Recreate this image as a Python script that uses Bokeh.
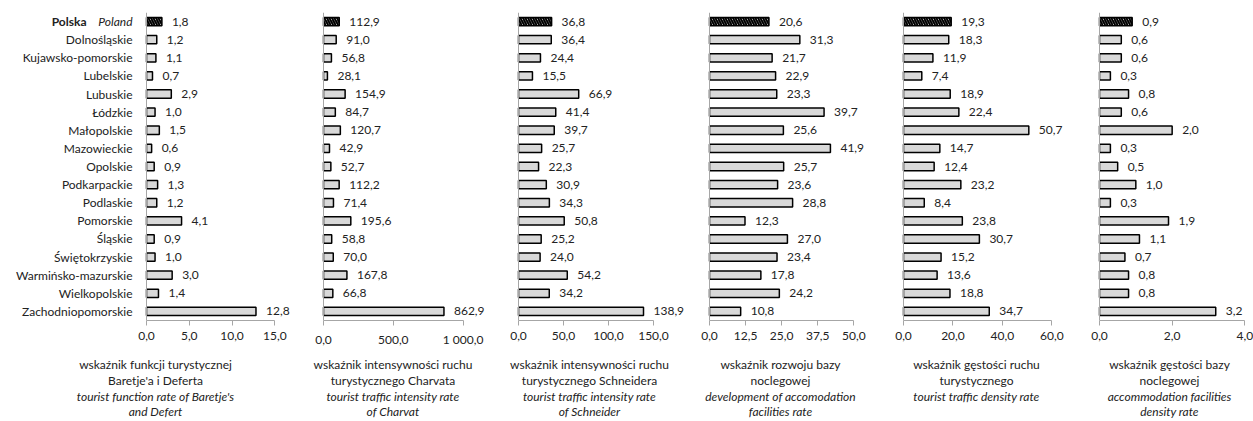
from bokeh.plotting import figure
from bokeh.layouts import row, column
from bokeh.models import Range1d, FixedTicker, Span
from bokeh.core.properties import value
from bokeh.embed import file_html
from bokeh.resources import INLINE

regions = ["Polska", "Dolnośląskie", "Kujawsko-pomorskie", "Lubelskie", "Lubuskie",
           "Łódzkie", "Małopolskie", "Mazowieckie", "Opolskie", "Podkarpackie",
           "Podlaskie", "Pomorskie", "Śląskie", "Świętokrzyskie",
           "Warmińsko-mazurskie", "Wielkopolskie", "Zachodniopomorskie"]
poland_pl = "Polska"
poland_en = "Poland"

baretje = [1.8, 1.2, 1.1, 0.7, 2.9, 1.0, 1.5, 0.6, 0.9, 1.3, 1.2, 4.1, 0.9, 1.0, 3.0, 1.4, 12.8]
charvat = [112.9, 91.0, 56.8, 28.1, 154.9, 84.7, 120.7, 42.9, 52.7, 112.2, 71.4, 195.6, 58.8, 70.0, 167.8, 66.8, 862.9]
schneider = [36.8, 36.4, 24.4, 15.5, 66.9, 41.4, 39.7, 25.7, 22.3, 30.9, 34.3, 50.8, 25.2, 24.0, 54.2, 34.2, 138.9]
accom_development = [20.6, 31.3, 21.7, 22.9, 23.3, 39.7, 25.6, 41.9, 25.7, 23.6, 28.8, 12.3, 27.0, 23.4, 17.8, 24.2, 10.8]
traffic_density = [19.3, 18.3, 11.9, 7.4, 18.9, 22.4, 50.7, 14.7, 12.4, 23.2, 8.4, 23.8, 30.7, 15.2, 13.6, 18.8, 34.7]
accom_density = [0.9, 0.6, 0.6, 0.3, 0.8, 0.6, 2.0, 0.3, 0.5, 1.0, 0.3, 1.9, 1.1, 0.7, 0.8, 0.8, 3.2]

ticks_1 = [0, 5, 10, 15]
tick_labels_1 = ["0,0", "5,0", "10,0", "15,0"]
ticks_2 = [0, 500, 1000]
tick_labels_2 = ["0,0", "500,0", "1 000,0"]
ticks_3 = [0, 50, 100, 150]
tick_labels_3 = ["0,0", "50,0", "100,0", "150,0"]
ticks_4 = [0, 12.5, 25, 37.5, 50]
tick_labels_4 = ["0,0", "12,5", "25,0", "37,5", "50,0"]
ticks_5 = [0, 20, 40, 60]
tick_labels_5 = ["0,0", "20,0", "40,0", "60,0"]
ticks_6 = [0, 2, 4]
tick_labels_6 = ["0,0", "2,0", "4,0"]

caption_pl_1 = ["wskaźnik funkcji turystycznej", "Baretje'a i Deferta"]
caption_en_1 = ["tourist function rate of Baretje's", "and Defert"]
caption_pl_2 = ["wskaźnik intensywności ruchu", "turystycznego Charvata"]
caption_en_2 = ["tourist traffic intensity rate", "of Charvat"]
caption_pl_3 = ["wskaźnik intensywności ruchu", "turystycznego Schneidera"]
caption_en_3 = ["tourist traffic intensity rate", "of Schneider"]
caption_pl_4 = ["wskaźnik rozwoju bazy", "noclegowej"]
caption_en_4 = ["development of accomodation", "facilities rate"]
caption_pl_5 = ["wskaźnik gęstości ruchu", "turystycznego"]
caption_en_5 = ["tourist traffic density rate"]
caption_pl_6 = ["wskaźnik gęstości bazy", "noclegowej"]
caption_en_6 = ["accommodation facilities", "density rate"]

FONT = "Lato"
FS = "12px"
TXT = "#222222"
AXC = "#a6a6a6"
TOP_H = 350          # height of the bar figures
CAP_H = 71           # height of the caption figures
FRAME_TOP = 12
FRAME_BOTTOM = 320
N = len(regions)

# (values, ticks, labels, caption pl, caption en, fig width, zero x in fig, axis length px, caption center x in fig)
panels = [
    (baretje, ticks_1, tick_labels_1, caption_pl_1, caption_en_1, 306, 146, 128.3, 155),
    (charvat, ticks_2, tick_labels_2, caption_pl_2, caption_en_2, 196, 17, 139.6, 86.5),
    (schneider, ticks_3, tick_labels_3, caption_pl_3, caption_en_3, 195, 16, 135.0, 87),
    (accom_development, ticks_4, tick_labels_4, caption_pl_4, caption_en_4, 196, 12, 144.3, 83),
    (traffic_density, ticks_5, tick_labels_5, caption_pl_5, caption_en_5, 195, 10, 148.3, 83),
    (accom_density, ticks_6, tick_labels_6, caption_pl_6, caption_en_6, 165, 11, 145.3, 81),
]

cap_y = [364, 380, 395.5, 410.5]


def fmt(v):
    return f"{v:.1f}".replace(".", ",")


top_figs = []
cap_figs = []
for k, (vals, ticks, tlabels, cpl, cen, w, x0, axpx, capx) in enumerate(panels):
    vmax = ticks[-1]
    scale = axpx / vmax
    p = figure(width=w, height=TOP_H, output_backend="svg", toolbar_location=None,
               x_range=Range1d(-x0 / scale, (w - x0) / scale),
               y_range=Range1d(N - 0.5, -0.5),
               y_axis_location=None,
               min_border_left=0, min_border_right=0, min_border_top=FRAME_TOP,
               min_border_bottom=TOP_H - FRAME_BOTTOM, outline_line_color=None,
               background_fill_color="white", border_fill_color="white")
    p.xgrid.visible = False
    p.ygrid.visible = False

    idx = list(range(N))
    p.hbar(y=idx[1:], left=0, right=vals[1:], height=0.46,
           fill_color="#d9d9d9", line_color="black", line_width=1.5)
    p.hbar(y=idx[:1], left=0, right=vals[:1], height=0.46,
           fill_color="white", line_color="black", line_width=1.5,
           hatch_pattern="left_diagonal_line", hatch_color="black",
           hatch_weight=2.0, hatch_scale=5)
    p.text(x=vals, y=idx, text=[fmt(v) for v in vals], x_offset=10,
           text_baseline="middle", text_align="left", text_font=value(FONT),
           text_font_size=FS, text_color=TXT)

    p.add_layout(Span(location=0, dimension="height", line_color=AXC, line_width=1))

    ax = p.xaxis[0]
    ax.ticker = FixedTicker(ticks=ticks)
    ax.major_label_overrides = {t: l for t, l in zip(ticks, tlabels)}
    ax.bounds = (0, vmax)
    ax.axis_line_color = AXC
    ax.major_tick_line_color = AXC
    ax.major_tick_out = 5
    ax.major_tick_in = 0
    ax.minor_tick_line_color = None
    ax.major_label_text_font = FONT
    ax.major_label_text_font_size = FS
    ax.major_label_text_color = TXT
    ax.major_label_standoff = 6

    if k == 0:
        names = [("" if i == 0 else regions[i]) for i in idx]
        p.text(x=[0] * N, y=idx, text=names, x_offset=-14, text_align="right",
               text_baseline="middle", text_font=value(FONT), text_font_size=FS,
               text_color=TXT)
        p.text(x=[0], y=[0], text=[poland_en], x_offset=-14, text_align="right",
               text_baseline="middle", text_font=value(FONT), text_font_size=FS,
               text_font_style="italic", text_color=TXT)
        p.text(x=[0], y=[0], text=[poland_pl], x_offset=-60, text_align="right",
               text_baseline="middle", text_font=value(FONT), text_font_size=FS,
               text_font_style="bold", text_color=TXT)
    top_figs.append(p)

    c = figure(width=w, height=CAP_H, output_backend="svg", toolbar_location=None,
               x_range=Range1d(0, w), y_range=Range1d(CAP_H, 0),
               x_axis_location=None, y_axis_location=None,
               min_border=0, outline_line_color=None,
               background_fill_color="white", border_fill_color="white")
    c.xgrid.visible = False
    c.ygrid.visible = False
    n_pl = len(cpl)
    n_en = len(cen)
    c.text(x=[capx] * n_pl, y=[cy - TOP_H for cy in cap_y[:n_pl]], text=cpl,
           text_align="center", text_baseline="middle", text_font=value(FONT),
           text_font_size=FS, text_color=TXT)
    c.text(x=[capx] * n_en, y=[cy - TOP_H for cy in cap_y[2:2 + n_en]], text=cen,
           text_align="center", text_baseline="middle", text_font=value(FONT),
           text_font_size=FS, text_font_style="italic", text_color=TXT)
    cap_figs.append(c)

layout = column(row(*top_figs, spacing=0), row(*cap_figs, spacing=0), spacing=0)
open("out.html", "w").write(file_html(layout, INLINE))
